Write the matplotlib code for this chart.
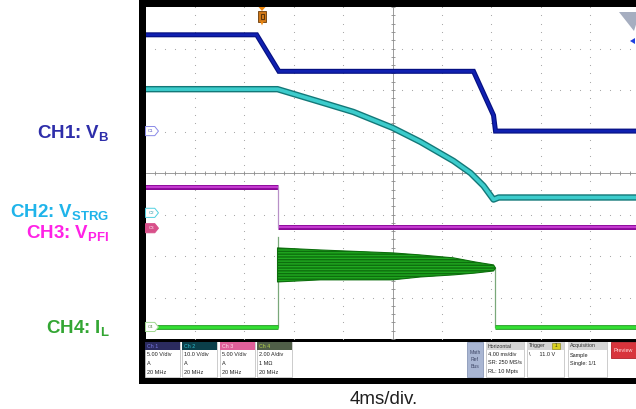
import numpy as np
import matplotlib
matplotlib.use("Agg")
import matplotlib.pyplot as plt
from matplotlib.patches import Rectangle, Polygon

plt.rcParams['font.family'] = ['Liberation Sans', 'DejaVu Sans']
plt.rcParams['mathtext.fontset'] = 'custom'
plt.rcParams['mathtext.bf'] = 'Liberation Sans:bold'
plt.rcParams['mathtext.rm'] = 'Liberation Sans:bold'
plt.rcParams['mathtext.default'] = 'bf'
plt.rcParams['hatch.color'] = "#148414"

W, H = 636, 409

# ── channel setup: units per division and ground-marker position (div) ──────
ch_scale = [5.0, 10.0, 5.0, 2.0]
ch_offset = [1.01, -0.96, -1.33, -3.71]

# CH1: V_B (V) vs time (ms)
ch1_t = [-20.0, -11.0, -9.2, 6.56, 8.18, 8.34, 20.0]
ch1_v = [11.6, 11.6, 7.2, 7.2, 1.9, 0.0, 0.0]

# CH2: V_STRG (V)
ch2_t = [-20.0, -9.31, -5.83, -3.16, 0.0, 2.27, 4.94, 6.32, 7.37, 8.18, 8.6, 20.0]
ch2_v = [29.8, 29.8, 26.7, 24.3, 20.5, 17.1, 12.5, 9.6, 6.5, 3.2, 3.7, 3.7]

# CH3: V_PFI (V), single falling edge
ch3_edge = -9.31
ch3_high = 5.0
ch3_low = 0.1

# CH4: I_L (A) – switching current envelope between the two edges
ch4_start = -9.31
ch4_stop = 8.34
ch4_spike = 4.34
ch4_t = [-9.31, -5.83, 0.0, 2.27, 4.94, 6.72, 8.18, 8.34]
ch4_hi = [3.81, 3.71, 3.57, 3.47, 3.33, 3.13, 2.99, 2.84]
ch4_lo = [2.17, 2.27, 2.27, 2.41, 2.51, 2.60, 2.70, 2.84]

labels = [("CH1: $V_B$", 138, "#2e2eaa"),
          ("CH2: $V_{STRG}$", 217, "#1fb4ea"),
          ("CH3: $V_{PFI}$", 238, "#ff22e6"),
          ("CH4: $I_L$", 333, "#33a633")]


def div(v, ch):
    return np.asarray(v) / ch_scale[ch] + ch_offset[ch]


fig = plt.figure(figsize=(W / 100, H / 100), dpi=100)
fig.patch.set_facecolor("white")

# background layer: scope bezel
bg = fig.add_axes([0, 0, 1, 1], zorder=0)
bg.set_xlim(0, W); bg.set_ylim(H, 0); bg.axis("off")
bg.add_patch(Rectangle((139, 0), 520, 383.5, fc="black", ec="none"))
bg.add_patch(Rectangle((145.5, 341.5), 500, 36.5, fc="white", ec="none"))

# graticule: 10 x 8 divisions, 4 ms/div
ax = fig.add_axes([145.5 / W, (H - 339) / H, 494 / W, 332 / H], zorder=1)
ax.set_xlim(-20, 20)
ax.set_ylim(-4, 4)
ax.set_facecolor("white")
ax.set_xticks([]); ax.set_yticks([])
for s in ax.spines.values():
    s.set_visible(False)

for gx in np.arange(-16, 17, 4):
    if gx != 0:
        ax.plot(np.full(41, gx), np.linspace(-4, 4, 41), ls="none", marker="s",
                ms=0.75, mec="none", mfc="#aaaaaa", zorder=1)
for gy in range(-3, 4):
    if gy != 0:
        ax.plot(np.linspace(-20, 20, 51), np.full(51, gy), ls="none", marker="s",
                ms=0.75, mec="none", mfc="#aaaaaa", zorder=1)
ax.axvline(0, color="#8c8c8c", lw=0.6, zorder=1)
ax.axhline(0, color="#8c8c8c", lw=0.6, zorder=1)
ax.plot(np.arange(-20, 20.1, 0.8), np.zeros(51), ls="none", marker="|", ms=3,
        mew=0.6, color="#8c8c8c", zorder=1)
ax.plot(np.zeros(41), np.linspace(-4, 4, 41), ls="none", marker="_", ms=3,
        mew=0.6, color="#8c8c8c", zorder=1)

# CH3
y3h, y3l = div(ch3_high, 2), div(ch3_low, 2)
for lw, c in [(3.6, "#8a0a98"), (1.6, "#c43ad0")]:
    ax.plot([-20, ch3_edge], [y3h, y3h], color=c, lw=lw, solid_capstyle="butt", zorder=3)
    ax.plot([ch3_edge, 20], [y3l, y3l], color=c, lw=lw, solid_capstyle="butt", zorder=3)
ax.plot([ch3_edge, ch3_edge], [y3h, y3l], color="#b890c8", lw=0.9, zorder=3)

# CH4
y4z = div(0.0, 3)
ax.plot([ch4_start, ch4_start], [y4z, div(ch4_spike, 3)], color="#7aa87a", lw=0.9, zorder=3)
ax.plot([ch4_stop, ch4_stop], [y4z, div(ch4_hi[-1], 3)], color="#7aa87a", lw=0.9, zorder=3)
ax.fill_between(ch4_t, div(ch4_hi, 3), div(ch4_lo, 3), fc="#20a820",
                ec="#0d6e0d", lw=0.8, hatch="------", zorder=3)
for lw, c in [(3.4, "#1d9a1d"), (2.0, "#34e034")]:
    ax.plot([-20, ch4_start], [y4z, y4z], color=c, lw=lw, solid_capstyle="butt", zorder=3)
    ax.plot([ch4_stop, 20], [y4z, y4z], color=c, lw=lw, solid_capstyle="butt", zorder=3)

# CH2
for lw, c in [(4.6, "#137878"), (2.6, "#3ccccc")]:
    ax.plot(ch2_t, div(ch2_v, 1), color=c, lw=lw, solid_joinstyle="round", zorder=3)

# CH1
for lw, c in [(3.6, "#050f80"), (2.0, "#1020b0")]:
    ax.plot(ch1_t, div(ch1_v, 0), color=c, lw=lw, solid_joinstyle="miter", zorder=3)

# ground markers
tag_style = [("C1", "white", "#8a8ae8", "#5050c0"),
             ("C2", "white", "#50d0e0", "#2090a0"),
             ("C3", "#d8508a", "#d8508a", "white"),
             ("C4", "white", "#a0d890", "#508040")]
for ch, (txt, fc, ec, tc) in enumerate(tag_style):
    yy = ch_offset[ch]
    ax.add_patch(Polygon([(-20, yy - 0.11), (-19.25, yy - 0.11), (-18.95, yy),
                          (-19.25, yy + 0.11), (-20, yy + 0.11)],
                         closed=True, fc=fc, ec=ec, lw=0.7, zorder=5, clip_on=False))
    ax.text(-19.55, yy, txt, fontsize=3.2, color=tc, ha="center", va="center", zorder=6)

# overlay: labels, trigger flag, status bar
ov = fig.add_axes([0, 0, 1, 1], zorder=3)
ov.set_xlim(0, W); ov.set_ylim(H, 0); ov.axis("off")
ov.patch.set_alpha(0)

for txt, yb, c in labels:
    ov.text(109.5, yb, txt, fontsize=13.5, fontweight="bold", color=c,
            ha="right", va="baseline")

# trigger position flag
ov.add_patch(Polygon([(258.5, 7), (265.5, 7), (262, 11)], fc="#f08a10", ec="none"))
ov.add_patch(Rectangle((258, 11), 8, 10.5, fc="#d07818", ec="#6a3a08", lw=0.6))
ov.add_patch(Rectangle((260.5, 13.5), 3, 5.5, fc="none", ec="#2a1a08", lw=0.5))
ov.add_patch(Polygon([(260.3, 21.5), (263.7, 21.5), (262, 25.5)], fc="#f08a10", ec="none"))

# top-right indicators
ov.add_patch(Polygon([(619, 12), (640, 12), (634, 31)], fc="#a6aec0", ec="none"))
ov.add_patch(Polygon([(630, 41), (635, 38), (635, 44)], fc="#2040e0", ec="none"))

# channel boxes
ch_boxes = [(145, "Ch 1", "#2b2b5e", "#7a7ae8", ["5.00 V/div", "A", "20 MHz"]),
            (182, "Ch 2", "#0b3f4a", "#30c0d0", ["10.0 V/div", "A", "20 MHz"]),
            (219.5, "Ch 3", "#e0609a", "#ffe0ee", ["5.00 V/div", "A", "20 MHz"]),
            (257, "Ch 4", "#505e48", "#b8d848", ["2.00 A/div", "1 MΩ", "20 MHz"])]
for x0, head, hc, htc, lines in ch_boxes:
    ov.add_patch(Rectangle((x0, 342), 35, 35, fc="white", ec="#c4c4c4", lw=0.6))
    ov.add_patch(Rectangle((x0, 342), 35, 7.5, fc=hc, ec="none"))
    ov.text(x0 + 2, 346, head, fontsize=3.8, color=htc, va="center")
    for k, ln in enumerate(lines):
        ov.text(x0 + 2, 355 + 8.5 * k, ln, fontsize=4.0, color="#202020", va="center")

ov.add_patch(Rectangle((467, 342), 16, 35, fc="#a9b6d3", ec="#8a98b8", lw=0.6))
ov.text(475, 359.5, "Math\nRef\nBus", fontsize=3.7, color="#404868",
        ha="center", va="center", linespacing=1.6)

info_boxes = [(486, 38, "Horizontal", ["4.00 ms/div", "SR: 250 MS/s", "RL: 10 Mpts"]),
              (527, 37, "Trigger", ["\\      11.0 V"]),
              (567.5, 39, "Acquisition", ["Sample", "Single: 1/1"])]
for x0, w, head, lines in info_boxes:
    ov.add_patch(Rectangle((x0, 342), w, 35, fc="white", ec="#c4c4c4", lw=0.6))
    ov.add_patch(Rectangle((x0, 342), w, 7.5, fc="#d6d6d6", ec="none"))
    ov.text(x0 + 2, 346, head, fontsize=3.8, color="#303030", va="center")
    for k, ln in enumerate(lines):
        ov.text(x0 + 2, 355 + 8 * k, ln, fontsize=4.0, color="#202020", va="center")
ov.add_patch(Rectangle((552, 343), 8, 5.5, fc="#d8d020", ec="#807a10", lw=0.4))
ov.text(556, 345.8, "1", fontsize=3.3, color="#303010", ha="center", va="center")

ov.add_patch(Rectangle((611, 342), 40, 16, fc="#d8343c", ec="#b02028", lw=0.6))
ov.text(613.5, 350, "Preview", fontsize=3.9, color="#ffe0e0", va="center")

ov.text(384, 404, "4ms/div.", fontsize=13.5, color="#202020", ha="center",
        va="baseline")

fig.savefig("out.png", dpi=100)
